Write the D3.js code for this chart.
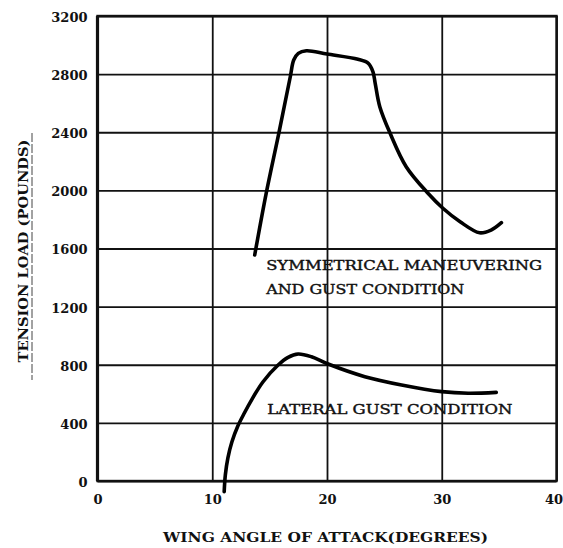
<!DOCTYPE html>
<html>
<head>
<meta charset="utf-8">
<script src="https://cdn.jsdelivr.net/npm/d3@7"></script>
<style>
  body { margin: 0; background: #fff; }
  svg text { font-family: "DejaVu Serif", "Liberation Serif", serif; fill: #111; }
</style>
</head>
<body>
<div id="chart"></div>
<script>
// values
var xTicks = [0, 10, 20, 30, 40];
var yTicks = [0, 400, 800, 1200, 1600, 2000, 2400, 2800, 3200];

// symmetrical maneuvering and gust condition
var symAngle = [13.7, 14.7, 15.8, 16.8, 17.1, 17.5, 18.2, 20.0, 22.7, 23.6, 24.0, 24.2, 24.6, 25.5, 26.9, 28.8, 30.1, 31.6, 33.3, 34.3, 35.2];
var symLoad  = [1555, 1980, 2393, 2782, 2897, 2943, 2961, 2938, 2902, 2874, 2817, 2737, 2576, 2393, 2163, 1980, 1877, 1784, 1708, 1727, 1778];

// lateral gust condition
var latAngle = [11.04, 11.14, 11.36, 11.71, 12.23, 12.8, 13.42, 14.43, 15.74, 16.61, 17.48, 18.65, 20.1, 23.3, 26.5, 30.0, 32.3, 34.75];
var latLoad  = [-74, 41, 158, 268, 378, 468, 557, 683, 798, 851, 874, 855, 805, 718, 661, 615, 604, 610];

var labels = [
  { text: "SYMMETRICAL MANEUVERING", x: 14.7, y: 1455, len: 276 },
  { text: "AND GUST CONDITION", x: 14.7, y: 1288, len: 198 },
  { text: "LATERAL GUST CONDITION", x: 14.8, y: 460, len: 245 }
];

function drawChart() {
  var width = 563;
  var height = 548;
  var mLeft = 97.5, mRight = 556.5, mTop = 16, mBottom = 481;

  var svg = d3.select('#chart')
    .append('svg')
    .attr('width', width)
    .attr('height', height);

  var x = d3.scaleLinear().domain([0, 40]).range([mLeft, mRight]);
  var y = d3.scaleLinear().domain([0, 3200]).range([mBottom, mTop]);

  // grid + x labels
  var xAxis = svg.append('g')
    .attr('transform', 'translate(0,' + mBottom + ')')
    .call(d3.axisBottom(x).tickValues(xTicks).tickSize(-(mBottom - mTop)).tickPadding(14).tickFormat(d3.format('d')));
  xAxis.select('.domain').remove();
  xAxis.selectAll('line').attr('stroke', '#111').attr('stroke-width', 1.8);
  xAxis.selectAll('text')
    .attr('font-size', 13).attr('font-weight', 'bold')
    .attr('dx', function(d) { return d === 40 ? -3 : 0; })
    .style('font-family', '"DejaVu Serif", serif');

  var yAxis = svg.append('g')
    .attr('transform', 'translate(' + mLeft + ',0)')
    .call(d3.axisLeft(y).tickValues(yTicks).tickSize(-(mRight - mLeft)).tickPadding(10).tickFormat(d3.format('d')));
  yAxis.select('.domain').remove();
  yAxis.selectAll('line').attr('stroke', '#111').attr('stroke-width', 1.8);
  yAxis.selectAll('text')
    .attr('font-size', 13).attr('font-weight', 'bold')
    .attr('dy', '0.42em')
    .style('font-family', '"DejaVu Serif", serif');

  // frame
  svg.append('rect')
    .attr('x', mLeft).attr('y', mTop)
    .attr('width', mRight - mLeft).attr('height', mBottom - mTop)
    .attr('fill', 'none').attr('stroke', '#111').attr('stroke-width', 2.4);
  svg.append('line')
    .attr('x1', mLeft).attr('x2', mLeft).attr('y1', mTop).attr('y2', mBottom)
    .attr('stroke', '#111').attr('stroke-width', 3.2);

  // curves
  var line = d3.line()
    .x(function(d) { return x(d[0]); })
    .y(function(d) { return y(d[1]); })
    .curve(d3.curveCatmullRom.alpha(0.5));

  var symData = d3.zip(symAngle, symLoad);
  var latData = d3.zip(latAngle, latLoad);

  [symData, latData].forEach(function(data) {
    svg.append('path')
      .attr('d', line(data))
      .attr('fill', 'none')
      .attr('stroke', '#000')
      .attr('stroke-width', 3.6)
      .attr('stroke-linecap', 'round')
      .attr('stroke-linejoin', 'round');
  });

  // curve labels, a touch heavier than the regular face
  labels.forEach(function(l) {
    svg.append('text')
      .attr('x', x(l.x))
      .attr('y', y(l.y))
      .attr('font-size', 13)
      .attr('stroke', '#111')
      .attr('stroke-width', 0.4)
      .attr('textLength', l.len)
      .attr('lengthAdjust', 'spacingAndGlyphs')
      .text(l.text);
  });

  // axis titles
  svg.append('text')
    .attr('x', 163).attr('y', 542)
    .attr('font-size', 13).attr('font-weight', 'bold')
    .attr('textLength', 325)
    .attr('lengthAdjust', 'spacingAndGlyphs')
    .text('WING ANGLE OF ATTACK(DEGREES)');

  svg.append('text')
    .attr('transform', 'translate(28,251) rotate(-90)')
    .attr('text-anchor', 'middle')
    .attr('font-size', 13).attr('font-weight', 'bold')
    .attr('textLength', 223)
    .attr('lengthAdjust', 'spacingAndGlyphs')
    .text('TENSION LOAD (POUNDS)');

  // underline beside the y title
  svg.append('line')
    .attr('x1', 32).attr('x2', 32).attr('y1', 133).attr('y2', 380)
    .attr('stroke', '#444').attr('stroke-width', 1)
    .attr('stroke-dasharray', '9,2');
}

drawChart();
</script>
</body>
</html>
